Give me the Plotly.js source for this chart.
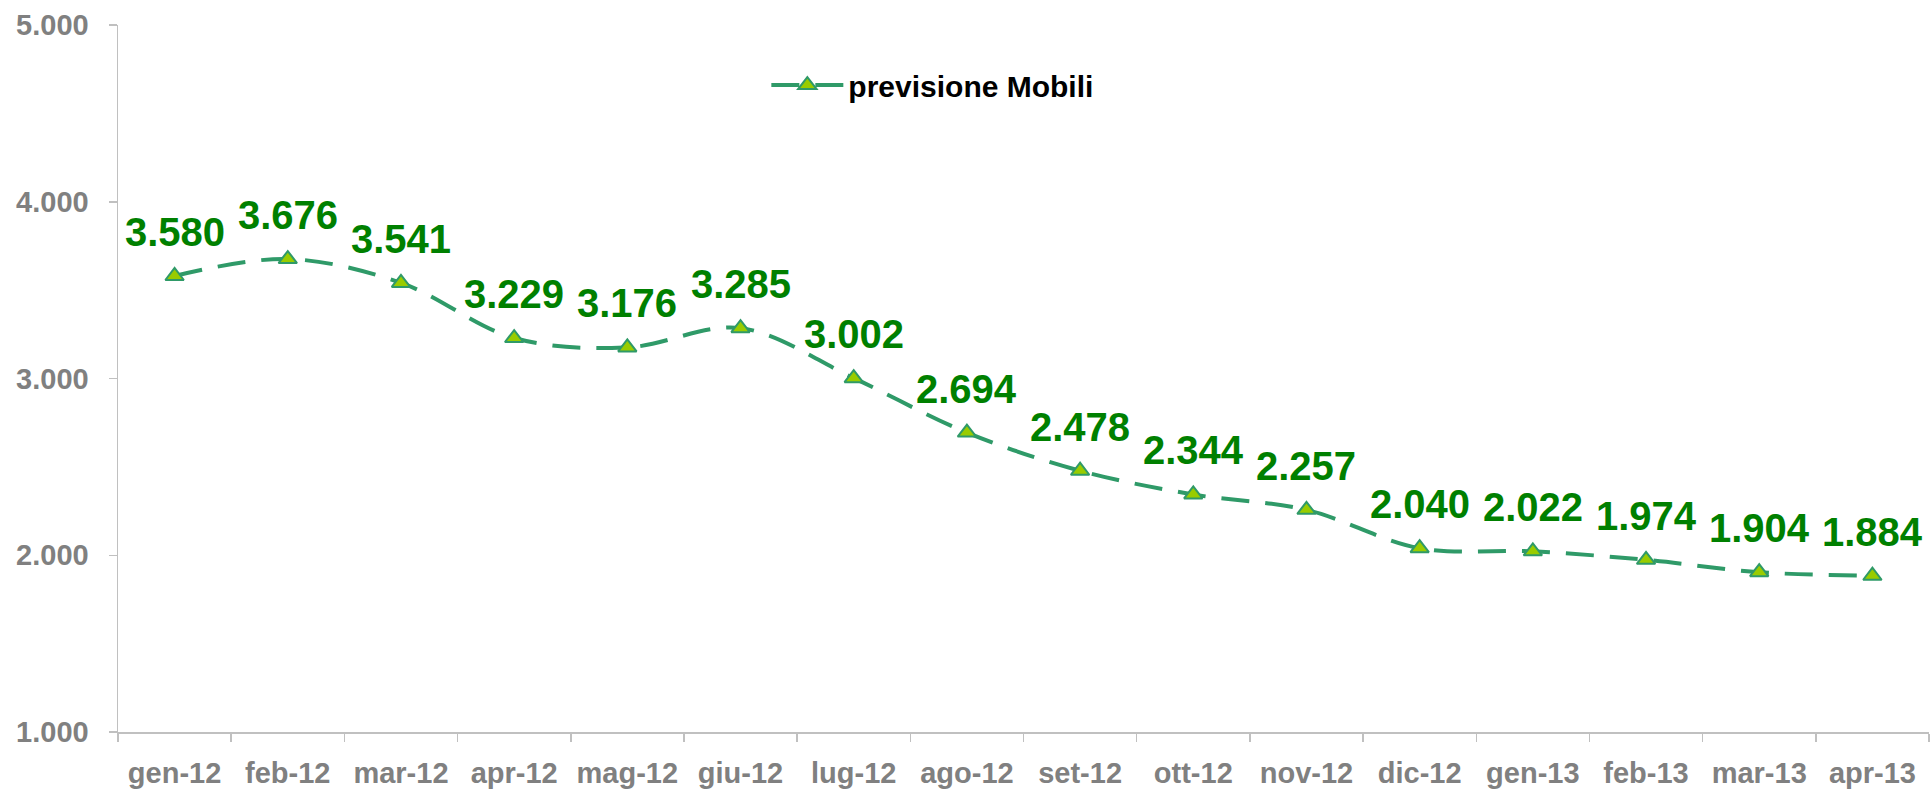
<!DOCTYPE html>
<html>
<head>
<meta charset="utf-8">
<script src="https://cdn.plot.ly/plotly-3.0.1.min.js"></script>
<style>html,body{margin:0;padding:0;background:#fff;}#chart{width:1930px;height:790px;}</style>
</head>
<body>
<div id="chart"></div>
<script>
const categories = ["gen-12","feb-12","mar-12","apr-12","mag-12","giu-12","lug-12","ago-12","set-12","ott-12","nov-12","dic-12","gen-13","feb-13","mar-13","apr-13"];
const previsioneMobili = [3580,3676,3541,3229,3176,3285,3002,2694,2478,2344,2257,2040,2022,1974,1904,1884];
const seriesName = "previsione Mobili";
const yTickValues = [1000,2000,3000,4000,5000];

function fmtIt(v){
  const s = Math.round(v).toString();
  return s.replace(/\B(?=(\d{3})+(?!\d))/g, ".");
}

const FONT = "Arial, 'Liberation Sans', sans-serif";

const trace = {
  x: categories,
  y: previsioneMobili,
  type: "scatter",
  mode: "lines+markers",
  name: seriesName,
  line: {color: "#2f9a68", width: 4, dash: "28px,16px", shape: "spline", smoothing: 1},
  marker: {symbol: "triangle-up", size: 16, color: "#99cc00", line: {color: "#2f9a68", width: 2}},
  hoverinfo: "x+y"
};

const annotations = categories.map((c, i) => ({
  x: c, y: previsioneMobili[i], xref: "x", yref: "y",
  text: fmtIt(previsioneMobili[i]),
  showarrow: false, yshift: 44,
  font: {family: FONT, size: 40, color: "#008000", weight: "bold"}
}));

const layout = {
  width: 1930, height: 790,
  margin: {l: 118, r: 1, t: 25, b: 58, pad: 0},
  paper_bgcolor: "#ffffff", plot_bgcolor: "#ffffff",
  separators: ",.",
  showlegend: true,
  legend: {
    x: 0.358, y: 0.915, xanchor: "left", yanchor: "middle",
    font: {family: FONT, size: 30, color: "#000000", weight: "bold"},
    bgcolor: "rgba(0,0,0,0)", itemwidth: 72
  },
  xaxis: {
    type: "category",
    showgrid: false, zeroline: false,
    showline: true, linecolor: "#c0c0c0", linewidth: 1.5,
    ticks: "outside", tickson: "boundaries", ticklen: 8, tickcolor: "#c0c0c0", tickwidth: 1.5,
    ticklabelstandoff: 15,
    tickfont: {family: FONT, size: 29, color: "#808080", weight: "bold"},
    range: [-0.5, 15.5], automargin: false, fixedrange: true
  },
  yaxis: {
    range: [1000, 5000],
    tickvals: yTickValues,
    tickformat: ",.0f",
    showgrid: false, zeroline: false,
    showline: true, linecolor: "#c0c0c0", linewidth: 1.5,
    ticks: "outside", ticklen: 8, tickcolor: "#c0c0c0", tickwidth: 1.5,
    ticklabelstandoff: 14,
    tickfont: {family: FONT, size: 29, color: "#808080", weight: "bold"},
    automargin: false, fixedrange: true
  },
  annotations: annotations
};

Plotly.newPlot("chart", [trace], layout, {displayModeBar: false, staticPlot: true});
</script>
</body>
</html>
